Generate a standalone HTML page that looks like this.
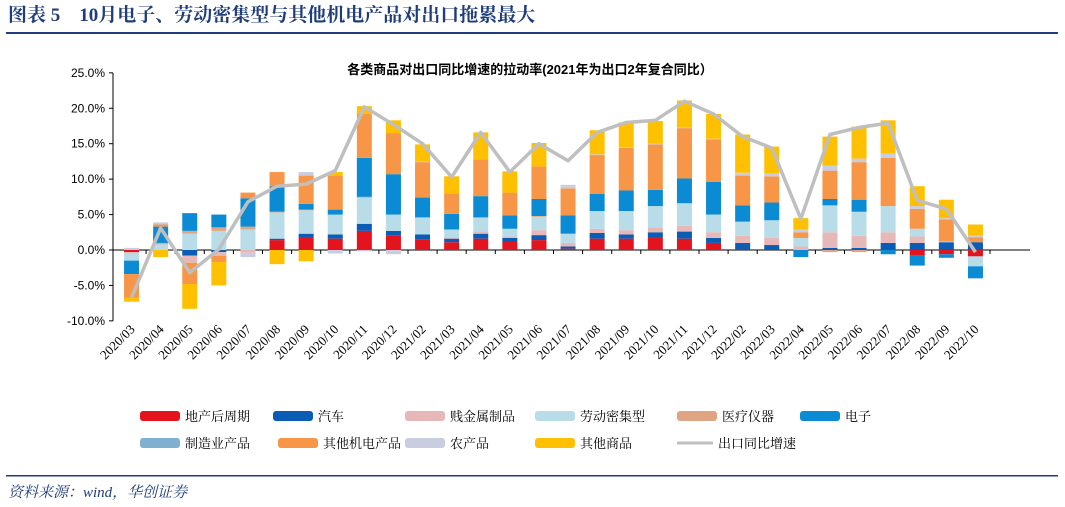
<!DOCTYPE html>
<html><head><meta charset="utf-8"><style>
body{margin:0;width:1065px;height:507px;background:#fff;overflow:hidden;font-family:"Liberation Sans","Noto Sans CJK SC",sans-serif}
svg{position:absolute;left:0;top:0}
</style></head><body>
<svg id="c" width="1065" height="507">
<text x="8" y="21" font-size="19" font-weight="bold" fill="#1F3D7A" font-family="'Liberation Serif','Noto Serif CJK SC',serif">图表 5　10月电子、劳动密集型与其他机电产品对出口拖累最大</text>
<rect x="6" y="32" width="1052" height="2" fill="#1F3D7A"/>
<text x="530" y="74" font-size="13" font-weight="bold" text-anchor="middle" fill="#000">各类商品对出口同比增速的拉动率(2021年为出口2年复合同比）</text>
<g id="axes"></g><g id="bars"></g><g id="line"></g><g id="legend"></g>
<rect x="6" y="475" width="1052" height="1.5" fill="#1F3D7A"/>
<text x="8" y="497" font-size="15" font-style="italic" fill="#1F3D7A" font-family="'Liberation Serif','Noto Serif CJK SC',serif">资料来源：wind，华创证券</text>
</svg>
<script>
const categories=["2020/03","2020/04","2020/05","2020/06","2020/07","2020/08","2020/09","2020/10","2020/11","2020/12","2021/02","2021/03","2021/04","2021/05","2021/06","2021/07","2021/08","2021/09","2021/10","2021/11","2021/12","2022/02","2022/03","2022/04","2022/05","2022/06","2022/07","2022/08","2022/09","2022/10"];
const seriesNames=["地产后周期","汽车","贱金属制品","劳动密集型","医疗仪器","电子","制造业产品","其他机电产品","农产品","其他商品"];
const realEstate=[-0.3,0,0,0,0,1.4,1.7,1.6,2.7,2.1,1.5,1.1,1.6,1.2,1.4,0.2,1.6,1.6,1.7,1.6,1.0,0,0,0,0,0,0,-0.8,-0.6,-0.9];
const autos=[0,0,-0.8,-0.3,0,0.2,0.6,0.6,1.0,0.6,0.7,0.5,0.7,0.5,0.7,0.3,0.8,0.6,0.8,1.0,0.7,1.0,0.7,0,0.3,0.3,1.0,1.0,1.1,1.1];
const baseMetals=[-0.2,0,-1.0,-0.5,-0.4,0,0,0,0,0,0,0.2,0.3,0.2,0.7,0.5,0.6,0.6,0.7,0.8,0.8,1.0,1.0,0.5,2.2,1.7,1.5,0.9,0,0];
const laborIntensive=[-1.0,0.8,2.3,2.7,2.9,3.7,3.3,2.8,3.7,2.3,2.4,1.1,2.0,1.1,1.9,1.3,2.5,2.7,3.0,3.2,2.5,2.0,2.5,1.2,3.8,3.4,3.7,1.1,0.1,-1.4];
const medical=[0,0.2,0.4,0.5,0.4,0.1,0.1,0,0.1,0,0,0,0,0,0.1,0,0,0,0,0,0,0,0,0,-0.3,-0.3,0,0,0,0];
const electronics=[-1.9,2.3,2.5,1.8,4.0,3.6,0.8,0.7,5.5,5.7,2.8,2.2,3.0,1.9,2.4,2.6,2.4,2.9,2.3,3.5,4.6,2.3,2.5,-1.0,0.9,1.7,-0.6,-1.4,-0.5,-1.7];
const manufacturing=[0,0,0,0,0,0,0,0,0,0,0,0,0,0,0,0,0,0,0,0,0,0,0,0,0,0,0,0,0,0];
const otherMechElec=[-3.3,0.3,-3.0,-0.9,0.8,2.0,4.0,4.8,6.2,5.8,5.0,2.9,5.2,3.2,4.6,3.8,5.5,6.0,6.4,7.1,6.0,4.2,3.7,0.8,4.0,5.3,6.8,2.8,3.1,0.7];
const agriculture=[0.3,0.3,0,0,-0.6,0,0.5,-0.5,-0.2,-0.6,0.1,0,0,0,0,0.5,0.1,0.1,0.1,0.1,0.1,0.4,0.4,0.4,0.7,0.5,0.6,0.4,0.2,0.2];
const otherGoods=[-0.6,-1.0,-3.5,-3.3,0,-2.0,-1.6,0.5,1.1,1.8,2.4,2.4,3.8,3.0,3.3,0,3.4,3.5,3.2,3.8,3.5,5.4,3.8,1.6,4.1,4.5,4.7,2.8,2.6,1.6];
const exportGrowth=[-6.7,3.1,-3.2,0.1,6.8,9.0,9.3,11.2,20.2,17.7,15.0,10.3,16.6,11.0,15.0,12.6,16.6,18.0,18.3,21.0,19.2,16.0,14.4,4.4,16.3,17.3,17.9,7.0,5.8,-0.3];
const yTicks=[25,20,15,10,5,0,-5,-10];
const allSeries=[realEstate,autos,baseMetals,laborIntensive,medical,electronics,manufacturing,otherMechElec,agriculture,otherGoods];
const colors=["#E3141E","#0A5CB4","#E6B9B8","#B8DDE8","#DFA583","#0A8BD3","#7FB0CF","#F79646","#C9CDE0","#FFC000"];
const dataNames=["real-estate","autos","base-metals","labor-intensive","medical","electronics","manufacturing","other-mech-elec","agriculture","other-goods"];
const NS="http://www.w3.org/2000/svg";
const X0=117,STEP=29.1,BW=15;
function xs(i){return X0+STEP*(i+0.5);}
function ys(v){return 250-v*7.086;}
function mk(t,a,p){const e=document.createElementNS(NS,t);for(const k in a)e.setAttribute(k,a[k]);p.appendChild(e);return e;}
const ax=document.getElementById('axes');
let l=mk('line',{x1:113,y1:ys(25),x2:113,y2:ys(-10),stroke:'#000','stroke-width':1},ax);


yTicks.forEach(v=>{
  let t=mk('line',{x1:109,x2:113,y1:ys(v),y2:ys(v),stroke:'#000'},ax);
  
  
  let tx=mk('text',{x:105,y:ys(v)+4,'font-size':12,'text-anchor':'end'},ax);tx.textContent=v.toFixed(1)+'%';
  
  
});
categories.forEach((c,i)=>{
  let t=mk('line',{x1:X0+STEP*(i+1),x2:X0+STEP*(i+1),y1:250,y2:254,stroke:'#000'},ax);
  
  
  let x=xs(i)+4,y=330;
  let tx=mk('text',{x:x,y:y,'font-size':13,'text-anchor':'end','font-family':"'Liberation Serif',serif",transform:`rotate(-45 ${x} ${y})`},ax);tx.textContent=c;
  
  
});
const bg=document.getElementById('bars');
categories.forEach((c,i)=>{
  let pos=0,neg=0;
  allSeries.forEach((s,k)=>{
    const v=s[i];if(!v)return;
    let y0,y1;
    if(v>0){y0=pos;y1=pos+v;pos=y1;}else{y0=neg;y1=neg+v;neg=y1;}
    const r=mk('rect',{x:xs(i)-BW/2,width:BW,y:Math.min(ys(y0),ys(y1)),height:Math.abs(ys(y1)-ys(y0)),fill:colors[k]},bg);
    
    
  });
});
let al=mk('line',{x1:113,x2:1030,y1:250,y2:250,stroke:'#000','stroke-width':1},ax);


const lg=document.getElementById('line');
const pl=mk('polyline',{points:exportGrowth.map((v,i)=>xs(i)+','+ys(v)).join(' '),fill:'none',stroke:'#BFBFBF','stroke-width':3.5,'stroke-linejoin':'round'},lg);


const leg=document.getElementById('legend');
const pos=[[140,416],[273,416],[405,416],[535,416],[677,416],[800,416],[140,443],[278,443],[405,443],[535,443]];
const LF="'Liberation Serif','Noto Serif CJK SC',serif";
seriesNames.forEach((n,k)=>{
  const [x,y]=pos[k];
  const g=mk('g',{},leg);
  
  
  mk('rect',{x:x,y:y-5,width:40,height:10,rx:3,fill:colors[k]},g);
  const t=mk('text',{x:x+45,y:y+5,'font-size':13,'font-family':LF},g);t.textContent=n;
});
const g2=mk('g',{},leg);


mk('line',{x1:677,x2:713,y1:443,y2:443,stroke:'#BFBFBF','stroke-width':3},g2);
const t2=mk('text',{x:718,y:448,'font-size':13,'font-family':LF},g2);t2.textContent='出口同比增速';
</script>
</body></html>
